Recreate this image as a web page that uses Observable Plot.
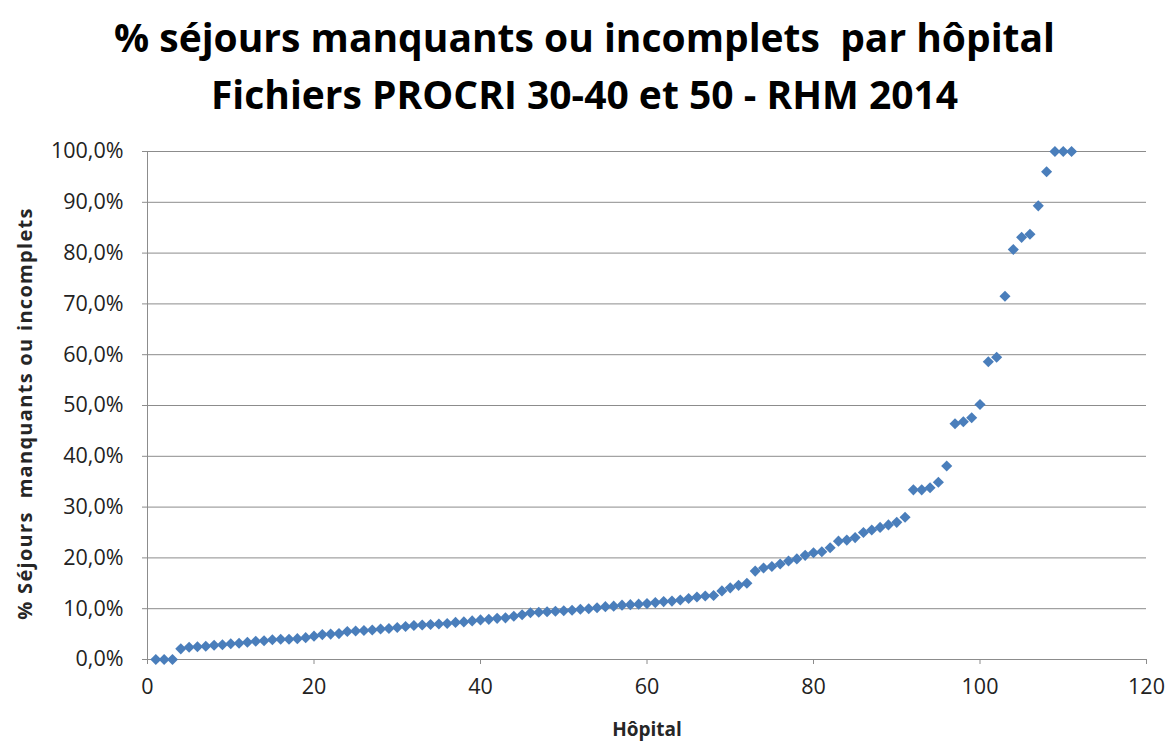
<!DOCTYPE html>
<html><head><meta charset="utf-8">
<script src="https://cdn.jsdelivr.net/npm/d3@7"></script>
<script src="https://cdn.jsdelivr.net/npm/@observablehq/plot@0.6"></script>
<style>
body{margin:0;background:#fff;}
#title{height:125px;text-align:center;font-family:"Open Sans";font-weight:bold;font-size:39px;line-height:57px;padding-top:8px;box-sizing:border-box;color:#000;white-space:pre}
#chart svg{display:block}
</style></head><body>
<div id="title"><div>% séjours manquants ou incomplets  par hôpital</div><div>Fichiers PROCRI 30-40 et 50 - RHM 2014</div></div>
<div id="chart"></div>
<script>
const pct = [
  0, 0, 0,
  2.1, 2.4, 2.5, 2.6, 2.8, 2.9, 3.1, 3.2, 3.4, 3.6, 3.7, 3.9, 4.0, 4.0, 4.1, 4.3, 4.6, 4.9, 5.0, 5.1,
  5.5, 5.6, 5.7, 5.8, 6.0, 6.1, 6.3, 6.5, 6.7, 6.8, 6.9, 7.0, 7.1, 7.3, 7.4, 7.6, 7.8,
  7.9, 8.1, 8.2, 8.5, 8.8, 9.2, 9.3, 9.4, 9.5, 9.6, 9.7, 9.9, 10.0, 10.2, 10.4, 10.5, 10.7, 10.8, 10.9, 11.0,
  11.2, 11.4, 11.5, 11.7, 12.0, 12.3, 12.5, 12.6, 13.5, 14.1, 14.6, 15.0,
  17.4, 18.0, 18.3, 18.8, 19.4, 19.8, 20.5, 21.0, 21.2, 22.0, 23.3, 23.5, 24.0, 25.0, 25.5, 26.0, 26.5, 27.0, 28.0,
  33.4, 33.4, 33.8, 34.9, 38.1, 46.4, 46.8, 47.6, 50.2, 58.6, 59.5, 71.5, 80.7, 83.1, 83.7, 89.3, 96.0, 100, 100, 100
];
const yTicks = [0, 10, 20, 30, 40, 50, 60, 70, 80, 90, 100];
const xTicks = [0, 20, 40, 60, 80, 100, 120];
const yLabel = "% Séjours  manquants ou incomplets";
const xLabel = "Hôpital";

const data = pct.map((v, i) => ({h: i + 1, v}));
const fmt = d => d.toFixed(1).replace(".", ",") + "%";

const chart = Plot.plot({
  width: 1169, height: 620,
  marginLeft: 147, marginRight: 23, marginTop: 26, marginBottom: 86,
  x: {domain: [0, 120]},
  y: {domain: [0, 100]},
  style: {fontFamily: "Open Sans", fontSize: "21px", color: "#222", background: "#fff"},
  marks: [
    Plot.gridY(yTicks, {stroke: "#8c8c8c", strokeOpacity: 1, strokeWidth: 1}),
    Plot.ruleX([0], {stroke: "#8c8c8c"}),
    Plot.ruleY([0], {stroke: "#8c8c8c"}),
    Plot.axisY(yTicks, {tickSize: 5, tickPadding: 19, tickFormat: fmt, stroke: "#8c8c8c", fill: "#222", label: null, fontSize: 21.5}),
    Plot.axisX(xTicks, {tickSize: 5, tickPadding: 14, stroke: "#8c8c8c", fill: "#222", label: null, fontSize: 21.5}),
    Plot.dot(data, {x: "h", y: "v", symbol: "diamond2", r: 5, fill: "#4A7EBB", stroke: "none"}),
    Plot.text([yLabel], {frameAnchor: "left", dx: -122, dy: 8, rotate: -90, textAnchor: "middle", fontWeight: "bold", fontSize: 20, fill: "#262626"}),
    Plot.text([xLabel], {frameAnchor: "bottom", dy: 76, fontWeight: "bold", fontSize: 19, fill: "#262626"})
  ]
});
chart.querySelectorAll("text").forEach(t => {
  if (t.textContent === yLabel) t.style.letterSpacing = "1.3px";
});
document.getElementById("chart").appendChild(chart);
</script>
</body></html>
